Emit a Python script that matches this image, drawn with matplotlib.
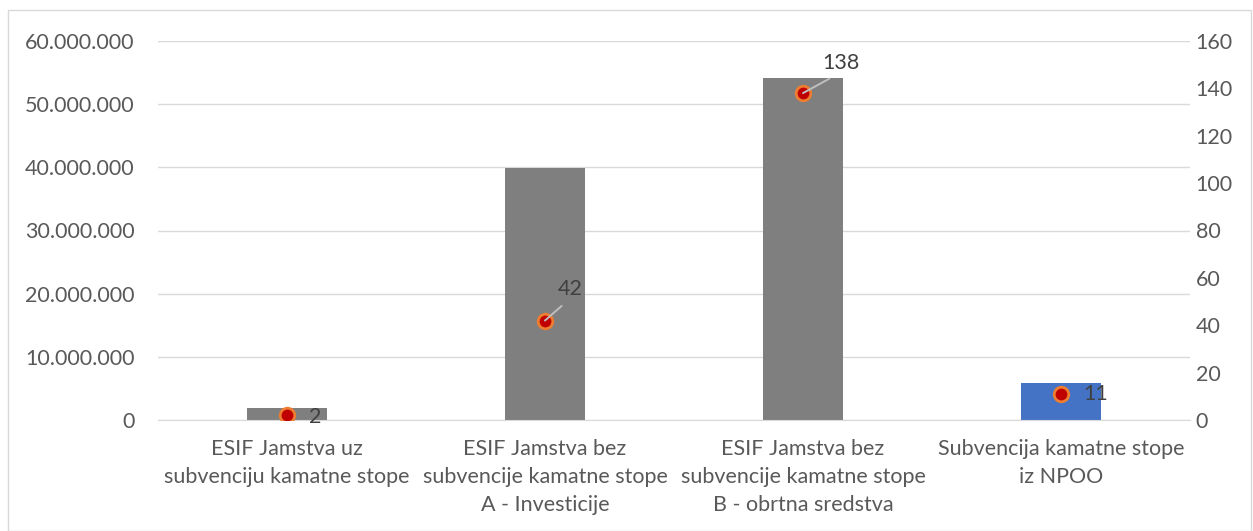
import matplotlib
matplotlib.use("Agg")
import matplotlib.pyplot as plt
from matplotlib.ticker import FuncFormatter, MultipleLocator
from matplotlib.patches import Rectangle

categories = ["ESIF Jamstva uz\nsubvenciju kamatne stope",
              "ESIF Jamstva bez\nsubvencije kamatne stope\nA - Investicije",
              "ESIF Jamstva bez\nsubvencije kamatne stope\nB - obrtna sredstva",
              "Subvencija kamatne stope\niz NPOO"]
amounts = [1.9e6, 39.9e6, 54.2e6, 5.85e6]
counts = [2, 42, 138, 11]
bar_colors = ["#7F7F7F", "#7F7F7F", "#7F7F7F", "#4472C4"]

plt.rcParams['font.family'] = ['Lato', 'DejaVu Sans']
fig = plt.figure(figsize=(12.53, 5.31), dpi=100)
ax = fig.add_axes([158/1253, 1-420/531, (1190-158)/1253, (420-41)/531])
x = list(range(len(categories)))
ax.bar(x, amounts, width=0.31, color=bar_colors, zorder=2)
ax.set_xlim(-0.5, 3.5)
ax.set_ylim(0, 60e6)
ax.yaxis.set_major_locator(MultipleLocator(10e6))
ax.yaxis.set_major_formatter(FuncFormatter(lambda v, p: f"{int(v):,}".replace(",", ".")))
ax.grid(axis='y', color='#D9D9D9', linewidth=1, zorder=0)
for s in ax.spines.values():
    s.set_visible(False)
ax.spines['bottom'].set_visible(True)
ax.spines['bottom'].set_color('#D9D9D9')
ax.tick_params(axis='both', length=0, labelsize=15.5, colors='#595959')
ax.tick_params(axis='y', pad=17)
ax.set_xticks(x)
ax.set_xticklabels(categories, fontsize=15.5, color='#595959', linespacing=1.5)
ax.tick_params(axis='x', pad=14)

ax2 = ax.twinx()
ax2.set_ylim(0, 160)
ax2.yaxis.set_major_locator(MultipleLocator(20))
for s in ax2.spines.values():
    s.set_visible(False)
ax2.tick_params(axis='y', length=0, labelsize=15.5, colors='#595959', pad=4)
ax2.scatter(x, counts, s=110, color='#C00000', edgecolors='#ED7D31', linewidths=2, zorder=5)

offsets = [(20, -1, None), (18, 23, (0.5, 0.0)), (27, 22, (0.5, 0.0)), (25, 0, None)]
for xi, c, (dx, dy, rel) in zip(x, counts, offsets):
    if rel is not None:
        ax2.annotate(str(c), (xi, c), xytext=(dx, dy), textcoords='offset points',
                     fontsize=15.5, color='#404040', ha='center', va='center', zorder=6,
                     arrowprops=dict(arrowstyle='-', color='#BFBFBF', lw=1.4,
                                     relpos=rel, shrinkA=5, shrinkB=0))
    else:
        ax2.annotate(str(c), (xi, c), xytext=(dx, dy), textcoords='offset points',
                     fontsize=15.5, color='#404040', ha='center', va='center')

fig.patches.append(Rectangle((8/1253, 0), 1243/1253, 1-10/531, transform=fig.transFigure,
                             fill=False, edgecolor='#D9D9D9', linewidth=1))
fig.savefig("out.png", dpi=100)
